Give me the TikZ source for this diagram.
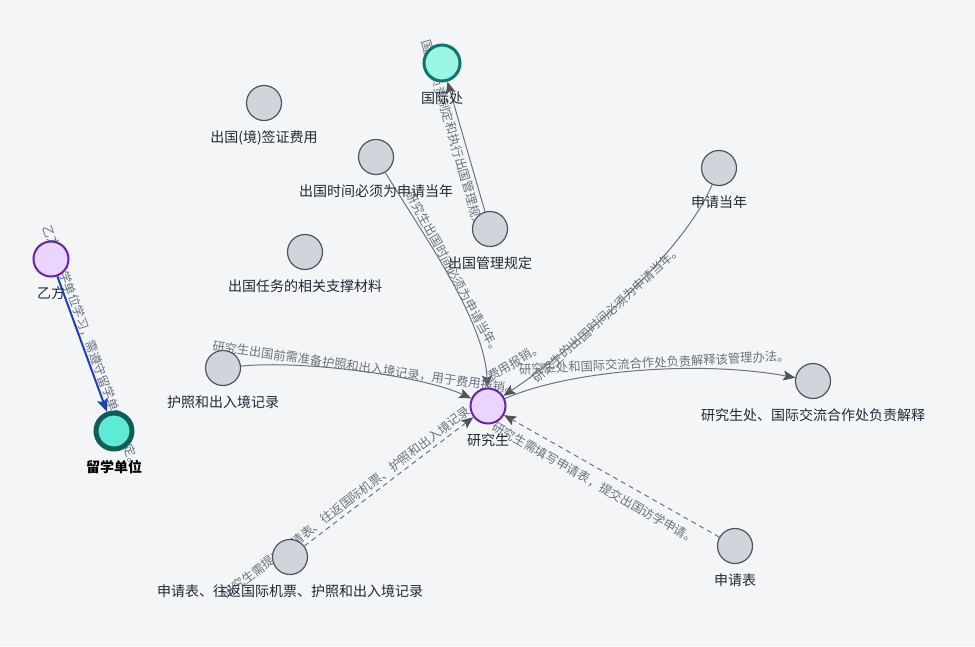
\documentclass[tikz,border=0pt]{standalone}
\usepackage{fontspec}
\setmainfont{Noto Sans CJK SC}
\usetikzlibrary{arrows.meta}
\definecolor{bg}{HTML}{F3F5F7}
\definecolor{gfill}{HTML}{D1D5DB}
\definecolor{gdraw}{HTML}{4B5563}
\definecolor{pfill}{HTML}{E9D5FF}
\definecolor{pdraw}{HTML}{6B21A8}
\definecolor{tfill}{HTML}{99F6E4}
\definecolor{tdraw}{HTML}{0F766E}
\definecolor{lfill}{HTML}{5EEAD4}
\definecolor{ldraw}{HTML}{115E59}
\definecolor{labcol}{HTML}{1F2937}
\definecolor{ecol}{HTML}{6B7280}
\definecolor{acol}{HTML}{52525B}
\definecolor{bcol}{HTML}{1E40AF}
\definecolor{tcol}{HTML}{6B7280}
\pgfdeclarelayer{bglayer}
\pgfdeclarelayer{edgelayer}
\pgfsetlayers{bglayer,edgelayer,main}
\begin{document}
\begin{tikzpicture}[x=1pt,y=-1pt, label distance=9pt,
  base/.style={circle, inner sep=0pt},
  gnode/.style={base, minimum size=35pt, fill=gfill, draw=gdraw, line width=1.2pt},
  pnode/.style={base, minimum size=35pt, fill=pfill, draw=pdraw, line width=2pt},
  tnode/.style={base, minimum size=36pt, fill=tfill, draw=tdraw, line width=3pt},
  lnode/.style={base, minimum size=36pt, fill=lfill, draw=ldraw, line width=5pt},
  every label/.style={font=\fontsize{14}{16}\selectfont, text=labcol, inner sep=0pt},
  eline/.style={draw=ecol, line width=1pt, -{Stealth[length=12pt, width=10pt, inset=2.5pt, color=acol]}},
  dline/.style={eline, dash pattern=on 5pt off 4pt},
  bline/.style={draw=bcol, line width=2pt, -{Stealth[length=13pt, width=11pt, inset=2.5pt, color=bcol]}},
  elabbase/.style={font=\fontsize{12.3}{14}\selectfont, text=tcol, inner sep=0pt},
  elab/.style={elabbase, sloped}
]
\begin{pgfonlayer}{bglayer}
\fill[bg] (0,0) rectangle (975,646);
\end{pgfonlayer}
\useasboundingbox (0,0) rectangle (975,646);

% nodes
\node[tnode, label={below:国际处}] (gjc) at (442,63) {};
\node[gnode, label={below:出国(境)签证费用}] (qz) at (264,103) {};
\node[gnode, label={below:出国时间必须为申请当年}] (sj) at (376,157) {};
\node[gnode, label={below:出国管理规定}] (gl) at (490,229) {};
\node[gnode, label={below:申请当年}] (sq) at (719,168) {};
\node[pnode, label={below:乙方}] (yf) at (51,259) {};
\node[gnode, label={below:出国任务的相关支撑材料}] (rw) at (305,252) {};
\node[gnode, label={below:护照和出入境记录}] (hz) at (223,368) {};
\node[pnode, label={below:研究生}] (yjs) at (488,406) {};
\node[gnode, label={below:研究生处、国际交流合作处负责解释}] (jsc) at (813,381) {};
\node[lnode, label={[font=\fontsize{14}{16}\selectfont\bfseries, text=black]below:留学单位}] (lx) at (114,431) {};
\node[gnode, label={below:申请表、往返国际机票、护照和出入境记录}] (sqb2) at (290,557) {};
\node[gnode, label={below:申请表}] (sqb) at (735,546) {};

% edges
\begin{pgfonlayer}{edgelayer}
\draw[eline] (gl) -- (gjc) node[elab, pos=0.57, below=3pt] {国际处负责制定和执行出国管理规定。};
\draw[eline] (sj) .. controls (420,230) and (485,320) .. (yjs) node[elab, pos=0.5, above=0pt] {研究生出国时间必须为申请当年。};
\draw[eline] (sq) .. controls (685,250) and (580,345) .. (yjs) node[elab, pos=0.58] {研究生的出国时间必须为申请当年。};
\draw[eline] (yjs) .. controls (570,370) and (700,360) .. (jsc) node[elab, pos=0.55, above=1pt] {研究生处和国际交流合作处负责解释该管理办法。};
\draw[eline] (hz) .. controls (300,360) and (420,375) .. (yjs) node[elab, pos=0.52, above=-2pt] {研究生出国前需准备护照和出入境记录，用于费用报销。};
\draw[dline] (sqb2) -- (yjs) node[elab, pos=0.31, above=3pt] {研究生需提交申请表、往返国际机票、护照和出入境记录。};
\draw[dline] (sqb) -- (yjs) node[elab, pos=0.545, below=8pt] {研究生需填写申请表，提交出国访学申请。};
\draw[bline] (yf) -- (lx) node[elab, pos=0.54, above=1pt] {乙方在留学单位学习，需遵守留学单位的规定。};
\node[elabbase, rotate=31] (fybx) at (515,362) {费用报销。};
\end{pgfonlayer}
\end{tikzpicture}
\end{document}
